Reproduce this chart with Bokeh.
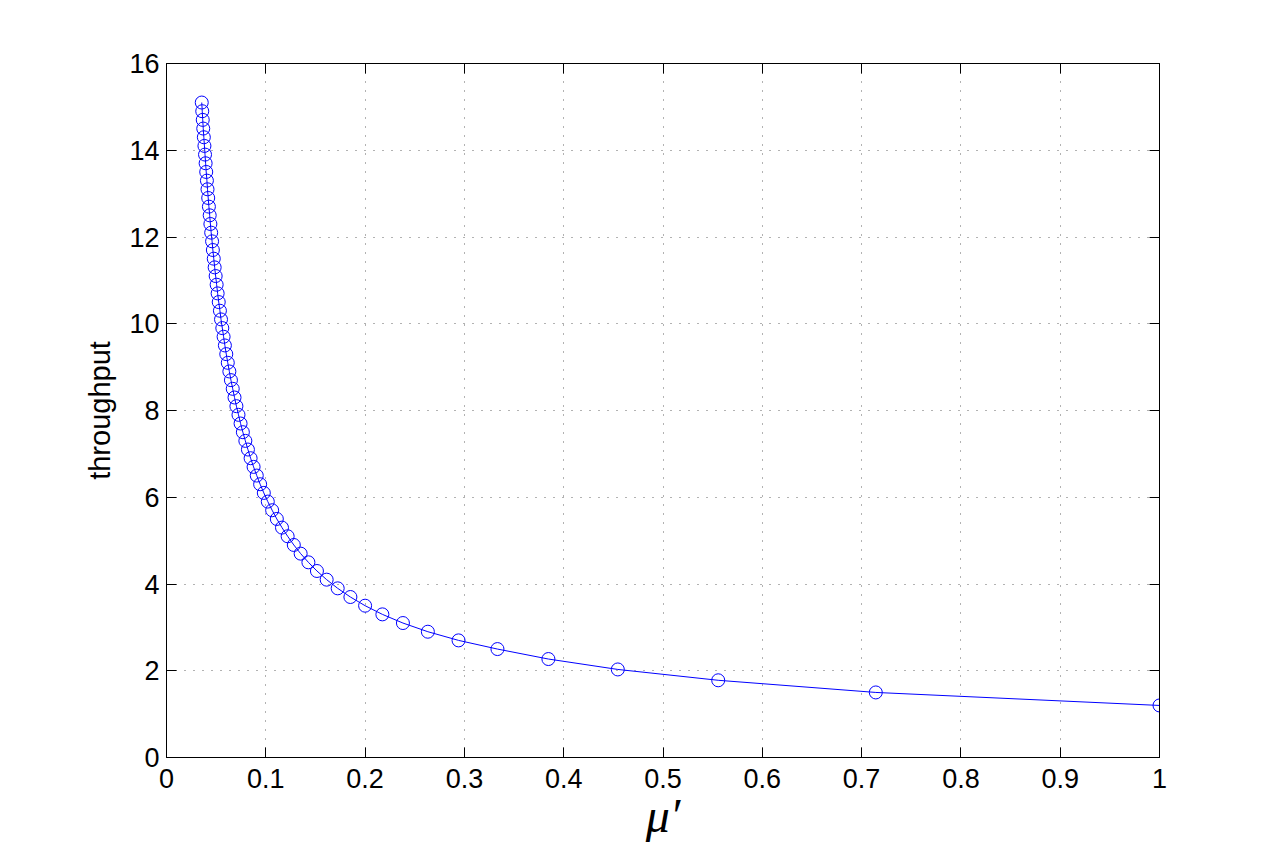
from bokeh.plotting import figure
from bokeh.models import LinearAxis, FixedTicker, Range1d
from bokeh.embed import file_html
from bokeh.resources import INLINE

# data
mu = [1.0, 0.7143, 0.5556, 0.4545, 0.3846, 0.3333, 0.2941, 0.2632, 0.2381, 0.2174,
      0.2, 0.1852, 0.1724, 0.1613, 0.1515, 0.1429, 0.1351, 0.1282, 0.1220, 0.1163,
      0.1111, 0.1064, 0.1020, 0.0980, 0.0943, 0.0909, 0.0877, 0.0847, 0.0820, 0.0794,
      0.0769, 0.0746, 0.0725, 0.0704, 0.0685, 0.0667, 0.0649, 0.0633, 0.0617, 0.0602,
      0.0588, 0.0575, 0.0562, 0.0549, 0.0538, 0.0526, 0.0515, 0.0505, 0.0495, 0.0485,
      0.0476, 0.0467, 0.0459, 0.0450, 0.0442, 0.0435, 0.0427, 0.0420, 0.0413, 0.0407,
      0.0400, 0.0394, 0.0388, 0.0382, 0.0376, 0.0370, 0.0365, 0.0360, 0.0355]
throughput = [1.2, 1.5, 1.78, 2.03, 2.27, 2.5, 2.7, 2.9, 3.1, 3.3,
              3.5, 3.7, 3.9, 4.1, 4.3, 4.5, 4.7, 4.9, 5.1, 5.3,
              5.5, 5.7, 5.9, 6.1, 6.3, 6.5, 6.7, 6.9, 7.1, 7.3,
              7.5, 7.7, 7.9, 8.1, 8.3, 8.5, 8.7, 8.9, 9.1, 9.3,
              9.5, 9.7, 9.9, 10.1, 10.3, 10.5, 10.7, 10.9, 11.1, 11.3,
              11.5, 11.7, 11.9, 12.1, 12.3, 12.5, 12.7, 12.9, 13.1, 13.3,
              13.5, 13.7, 13.9, 14.1, 14.3, 14.5, 14.7, 14.9, 15.1]
x_ticks = [0, 0.1, 0.2, 0.3, 0.4, 0.5, 0.6, 0.7, 0.8, 0.9, 1]
y_ticks = [0, 2, 4, 6, 8, 10, 12, 14, 16]
x_tick_labels = ["0", "0.1", "0.2", "0.3", "0.4", "0.5", "0.6", "0.7", "0.8", "0.9", "1"]

FONT = "Liberation Sans"
TICK_SIZE = "27px"

p = figure(width=1279, height=852, output_backend="svg", toolbar_location=None,
           x_range=Range1d(0, 1), y_range=Range1d(0, 16),
           min_border_left=166, min_border_right=120, min_border_top=63, min_border_bottom=95,
           background_fill_color="white", border_fill_color="white")
p.outline_line_color = "black"
p.outline_line_width = 1

p.line(mu, throughput, line_color="#0000ff", line_width=1)
p.scatter(mu, throughput, marker="circle", size=13, fill_color=None,
          line_color="#0000ff", line_width=1)

xt = FixedTicker(ticks=x_ticks, minor_ticks=[])
yt = FixedTicker(ticks=y_ticks, minor_ticks=[])

for ax in p.xaxis:
    ax.ticker = xt
    ax.major_label_overrides = {t: l for t, l in zip(x_ticks, x_tick_labels)}
for ax in p.yaxis:
    ax.ticker = yt

for ax in list(p.xaxis) + list(p.yaxis):
    ax.major_tick_in = 10
    ax.major_tick_out = 0
    ax.minor_tick_line_color = None
    ax.axis_line_color = "black"
    ax.major_tick_line_color = "black"
    ax.major_label_text_font = FONT
    ax.major_label_text_font_size = TICK_SIZE
    ax.major_label_text_color = "black"

p.xaxis.major_label_standoff = 11
p.yaxis.major_label_standoff = 7

p.xaxis.axis_label = "\u03bc\u2032"
p.xaxis.axis_label_text_font = "Liberation Serif"
p.xaxis.axis_label_text_font_style = "italic"
p.xaxis.axis_label_text_font_size = "48px"
p.xaxis.axis_label_text_color = "black"
p.xaxis.axis_label_standoff = -2

p.yaxis.axis_label = "throughput"
p.yaxis.axis_label_text_font = FONT
p.yaxis.axis_label_text_font_style = "normal"
p.yaxis.axis_label_text_font_size = "29px"
p.yaxis.axis_label_text_color = "black"
p.yaxis.axis_label_standoff = 10

# box ticks on the top and right sides (no labels)
top = LinearAxis(ticker=xt, major_tick_in=10, major_tick_out=0, axis_line_color="black",
                 major_label_text_color=None, minor_tick_line_color=None,
                 major_label_standoff=0)
right = LinearAxis(ticker=yt, major_tick_in=10, major_tick_out=0, axis_line_color="black",
                   major_label_text_color=None, minor_tick_line_color=None,
                   major_label_standoff=0)
p.add_layout(top, "above")
p.add_layout(right, "right")

for g in list(p.xgrid) + list(p.ygrid):
    g.grid_line_color = "#404040"
    g.grid_line_alpha = 0.8
    g.grid_line_dash = "1 8"
    g.grid_line_width = 1
p.xgrid.ticker = xt
p.ygrid.ticker = yt

open("out.html", "w").write(file_html(p, INLINE))
